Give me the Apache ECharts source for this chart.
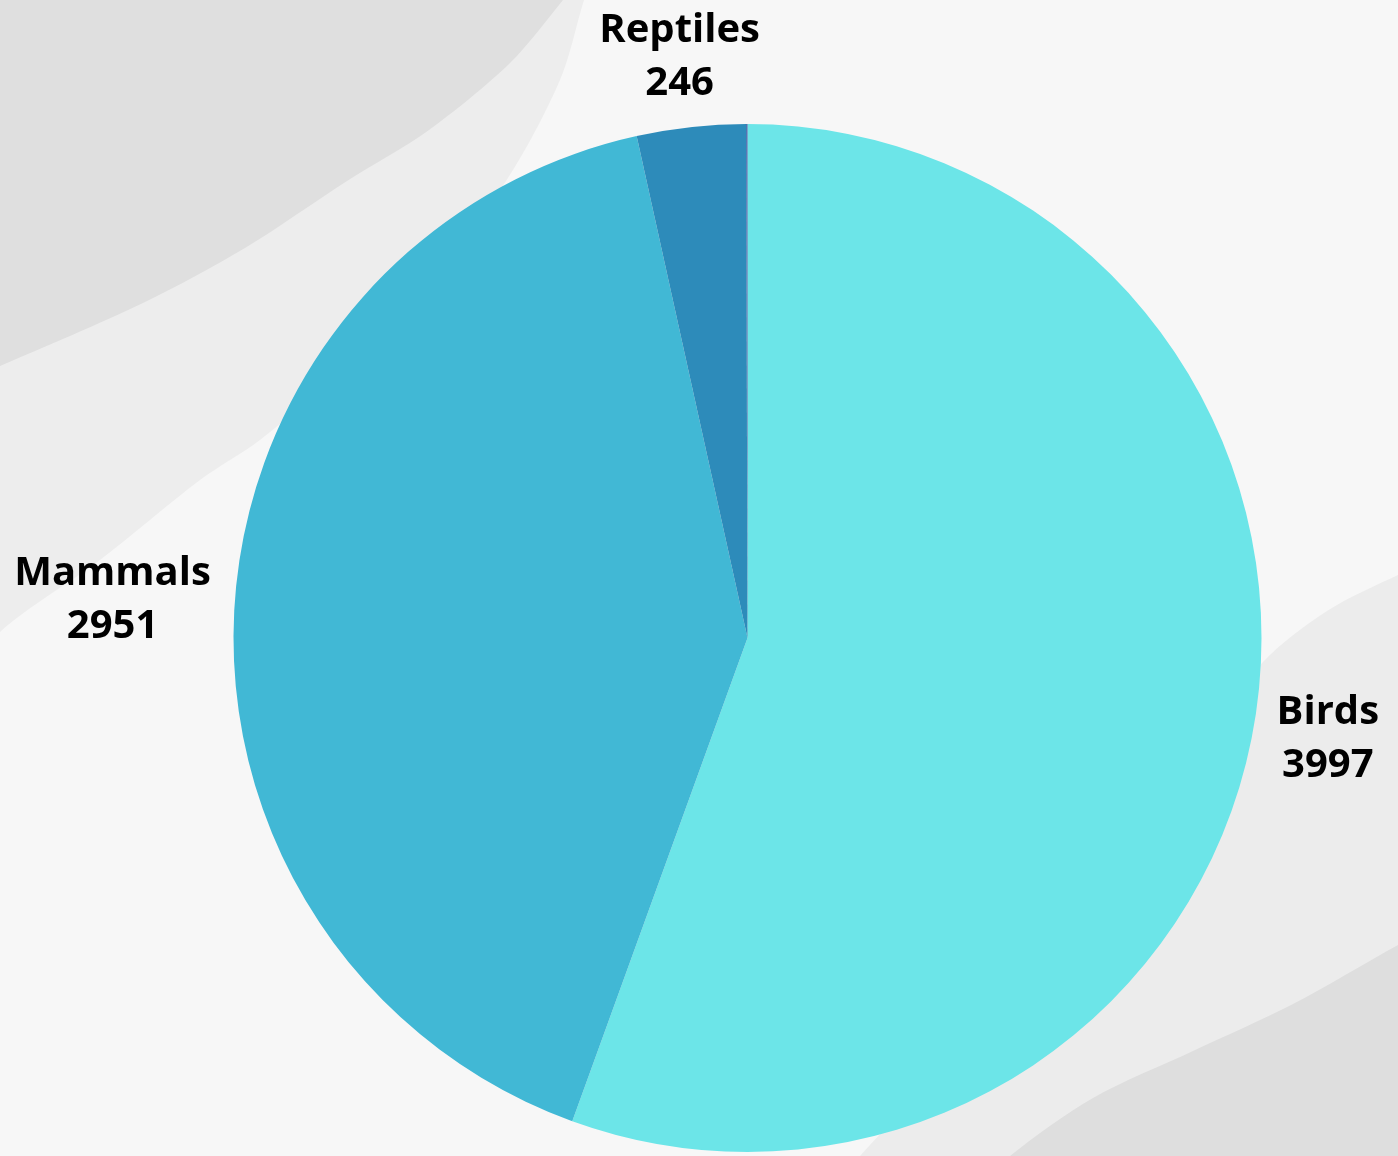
<!DOCTYPE html>
<html>
<head>
<meta charset="utf-8">
<style>
html,body{margin:0;padding:0;background:#f7f7f7;}
#chart{width:1398px;height:1156px;}
</style>
<script src="https://cdn.jsdelivr.net/npm/echarts@6/dist/echarts.min.js"></script>
</head>
<body>
<div id="chart"></div>
<script>
// ---- data ----
const categories = ['Birds', 'Mammals', 'Reptiles', 'Amphibians'];
const values = [3997, 2951, 246, 3];
const colors = ['#6ce5e8', '#41b8d5', '#2d8bba', '#3a5da6'];
const showLabel = [true, true, true, false];

// ---- layout ----
const CX = 747.5, CY = 638, R = 514, GAP = 24;
const total = values.reduce((a, b) => a + b, 0);

function midAngle(i) {
  let before = 0;
  for (let k = 0; k < i; k++) before += values[k];
  return (before + values[i] / 2) / total * 2 * Math.PI; // clockwise from top
}

const chart = echarts.init(document.getElementById('chart'), null, {renderer: 'canvas'});

// decorative background shapes (edges extended off-canvas so smoothing stays hidden)
const bg = [
  {type: 'polyline', z: -10, silent: true,
   shape: {smooth: 0.3, points: [[-300,-300],[-120,760],[0,632],[100,560],[200,480],[260,440],[330,380],[420,290],[506,181],[560,80],[584,0],[610,-80],[-300,-300]]},
   style: {fill: '#ededed', stroke: null}},
  {type: 'polyline', z: -9, silent: true,
   shape: {smooth: 0.3, points: [[-300,-300],[-150,430],[0,366],[143,303],[245,248],[347,181],[429,130],[510,63],[563,0],[610,-60],[-300,-300]]},
   style: {fill: '#dfdfdf', stroke: null}},
  {type: 'polyline', z: -10, silent: true,
   shape: {smooth: 0.3, points: [[1700,1500],[1500,530],[1398,575],[1327,611],[1263,662],[1150,800],[950,1060],[860,1156],[800,1230],[1700,1500]]},
   style: {fill: '#ececec', stroke: null}},
  {type: 'polyline', z: -9, silent: true,
   shape: {smooth: 0.3, points: [[1700,1500],[1500,890],[1398,945],[1293,1004],[1193,1051],[1093,1098],[1010,1156],[940,1220],[1700,1500]]},
   style: {fill: '#dedede', stroke: null}}
];

chart.setOption({
  backgroundColor: '#f7f7f7',
  animation: false,
  graphic: {elements: bg},
  series: [{
    type: 'pie',
    center: [CX, CY],
    radius: [0, R],
    startAngle: 90,
    clockwise: true,
    avoidLabelOverlap: false,
    minShowLabelAngle: 0,
    data: categories.map((c, i) => ({
      name: c,
      value: values[i],
      itemStyle: {color: colors[i]},
      label: {show: showLabel[i]}
    })),
    itemStyle: {borderWidth: 0},
    label: {
      position: 'outside',
      formatter: '{a|{b}}\n{a|{c}}',
      rich: {
        a: {
          fontFamily: 'Open Sans',
          fontWeight: 'bold',
          fontSize: 40,
          lineHeight: 53,
          color: '#000',
          align: 'center'
        }
      }
    },
    labelLine: {show: false, length: 0, length2: 0},
    labelLayout: function (p) {
      const i = p.dataIndex;
      const a = midAngle(i);
      const ux = Math.sin(a), uy = -Math.cos(a);
      const w = p.labelRect.width, h = p.labelRect.height;
      return {
        x: CX + ux * (R + GAP) + ux * w / 2,
        y: CY + uy * (R + GAP) + uy * h / 2,
        align: 'center',
        verticalAlign: 'middle'
      };
    },
    emphasis: {disabled: true}
  }]
});
</script>
</body>
</html>
